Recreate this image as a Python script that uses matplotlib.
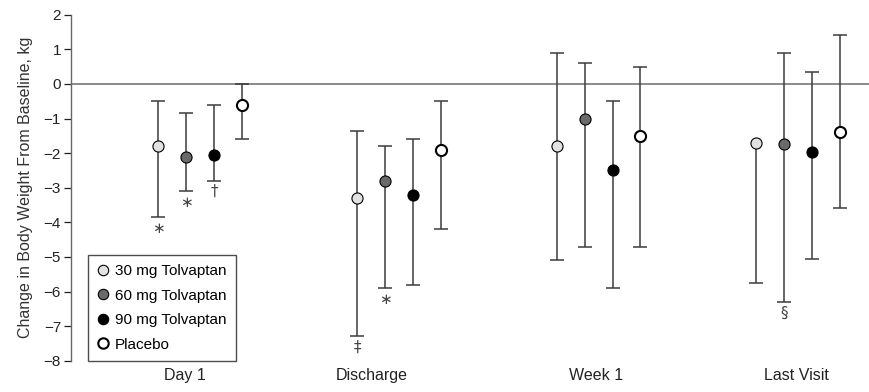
import numpy as np
import matplotlib
matplotlib.use("Agg")
import matplotlib.pyplot as plt
from matplotlib.lines import Line2D

plt.rcParams['font.family'] = ['Liberation Sans', 'DejaVu Sans']

# data
visits = ["Day 1", "Discharge", "Week 1", "Last Visit"]
series = ["30 mg Tolvaptan", "60 mg Tolvaptan", "90 mg Tolvaptan", "Placebo"]

mean_30 = [-1.80, -3.30, -1.80, -1.72]
low_30 = [-3.85, -7.30, -5.10, -5.75]
high_30 = [-0.50, -1.35, 0.90, np.nan]   # no upper bar at last visit

mean_60 = [-2.10, -2.80, -1.00, -1.75]
low_60 = [-3.10, -5.90, -4.70, -6.30]
high_60 = [-0.85, -1.80, 0.60, 0.90]

mean_90 = [-2.05, -3.20, -2.50, -1.96]
low_90 = [-2.80, -5.80, -5.90, -5.05]
high_90 = [-0.60, -1.60, -0.50, 0.35]

mean_pl = [-0.60, -1.90, -1.50, -1.40]
low_pl = [-1.60, -4.20, -4.70, -3.60]
high_pl = [0.00, -0.50, 0.50, 1.40]

# significance marks under the lower bar end
marks_30 = ["\u2217", "\u2021", "", ""]
marks_60 = ["\u2217", "\u2217", "", "\u00a7"]
marks_90 = ["\u2020", "", "", ""]
marks_pl = ["", "", "", ""]

means = [mean_30, mean_60, mean_90, mean_pl]
lows = [low_30, low_60, low_90, low_pl]
highs = [high_30, high_60, high_90, high_pl]
marks = [marks_30, marks_60, marks_90, marks_pl]
faces = ["#e2e2e2", "#6a6a6a", "#000000", "#ffffff"]
edge_w = [0.8, 0.8, 0.8, 1.5]
offsets = [-0.21, -0.07, 0.07, 0.21]

fig = plt.figure(figsize=(8.7, 3.92), dpi=100)
ax = fig.add_axes([0.0813, 0.0798, 0.9187, 0.8827])

ax.axhline(0, color="#777777", lw=1.2, zorder=1)

bar_c = "#3c3c3c"
base = np.arange(len(visits))
for k in range(4):
    m = np.array(means[k])
    lo = np.array(lows[k])
    hi = np.array(highs[k])
    x = base + offsets[k]
    top = np.where(np.isnan(hi), m, hi)
    ax.vlines(x, lo, top, color=bar_c, lw=1.1, zorder=2)
    ax.plot(x, lo, ls="none", marker="_", ms=9.5, mew=1.1, color=bar_c, zorder=2)
    ok = ~np.isnan(hi)
    ax.plot(x[ok], hi[ok], ls="none", marker="_", ms=9.5, mew=1.1, color=bar_c, zorder=2)
    ax.plot(x, m, ls="none", marker="o", ms=8, mfc=faces[k], mec="black",
            mew=edge_w[k], zorder=3)
    for i in range(len(visits)):
        if marks[k][i]:
            ax.annotate(marks[k][i], (x[i], lo[i]), xytext=(0, -2.5),
                        textcoords="offset points", ha="center", va="top",
                        fontsize=11, color="#444444",
                        family=["DejaVu Sans"])

ax.set_ylim(-8, 2)
ax.set_xlim(-0.649, 3.362)
ax.set_yticks(range(-8, 3))
ax.set_yticklabels([("\u2212%d" % -v) if v < 0 else str(v) for v in range(-8, 3)])
ax.set_xticks(base + np.array([-0.075, -0.14, -0.015, -0.005]))
ax.set_xticklabels(visits)
ax.tick_params(axis="x", length=0, pad=5, labelsize=11.5, colors="#222222")
ax.tick_params(axis="y", length=5, width=0.9, direction="out", pad=2,
               labelsize=11, colors="#222222")
for s in ["top", "right", "bottom"]:
    ax.spines[s].set_visible(False)
ax.spines["left"].set_color("#666666")
ax.spines["left"].set_linewidth(1.0)
ax.set_ylabel("Change in Body Weight From Baseline, kg", fontsize=11.5,
              color="#333333", labelpad=8)

handles = [Line2D([], [], ls="none", marker="o", ms=7.5, mfc=faces[k], mec="black",
                  mew=edge_w[k]) for k in range(4)]
leg = ax.legend(handles, series, loc="lower left", bbox_to_anchor=(0.021, 0.0),
                borderaxespad=0, frameon=True, fancybox=False, fontsize=11,
                handlelength=0.8, handletextpad=0.4, labelspacing=0.68,
                borderpad=0.6)
leg.get_frame().set_edgecolor("#222222")
leg.get_frame().set_linewidth(1.0)

fig.savefig("out.png", dpi=100)
